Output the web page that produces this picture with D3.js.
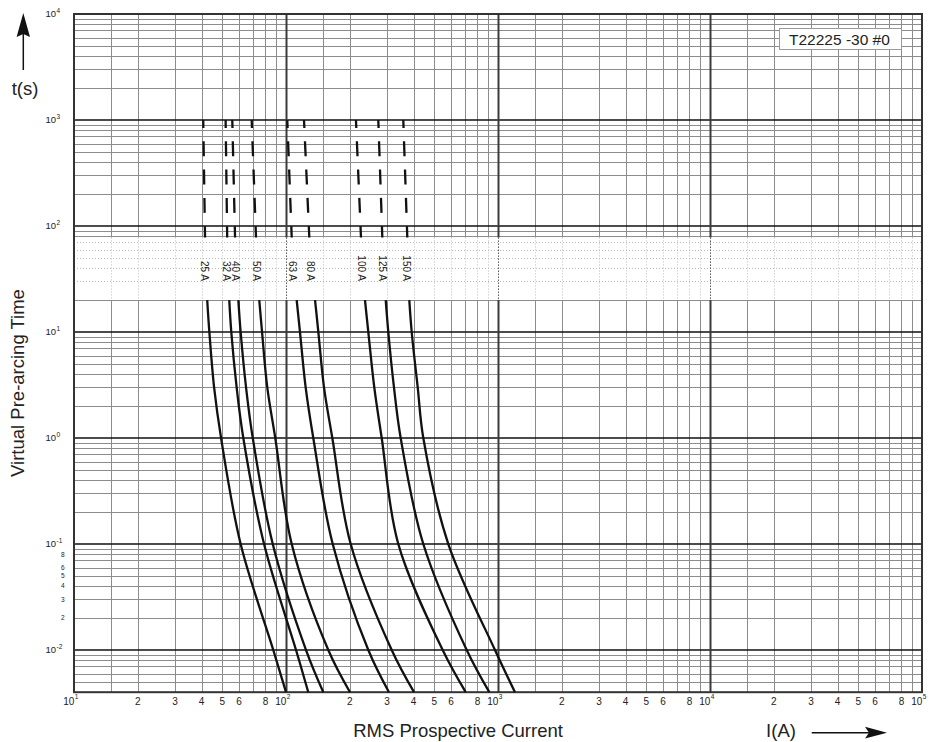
<!DOCTYPE html>
<html>
<head>
<meta charset="utf-8">
<script src="https://cdn.jsdelivr.net/npm/d3@7"></script>
<style>
  html, body { margin: 0; padding: 0; background: #fff; }
  svg { display: block; font-family: "Liberation Sans", Arial, Helvetica, sans-serif; }
</style>
</head>
<body>
<svg id="chart" width="940" height="742"></svg>
<script>
// ---------- DATA ----------
const ratings = [25, 32, 40, 50, 63, 80, 100, 125, 150];
const times   = [1000, 78, 20, 10, 3, 1, 0.1, 0.01, 0.004];   // seconds
const i25  = [40.7, 41.5, 42.5, 43.5, 45.8, 49.4, 61.1, 87.1, 100];
const i32  = [51.9, 52.8, 54.0, 55.2, 58.5, 62.9, 78.8, 111.5, 127.4];
const i40  = [55.8, 57.5, 59.6, 61.1, 64.8, 69.7, 86.6, 124.3, 150];
const i50  = [68.9, 72.2, 74.8, 77.1, 81.6, 89.0, 106.4, 158.3, 200.4];
const i63  = [101.4, 106.4, 112.3, 116.4, 123.8, 134.5, 166.1, 244.5, 306];
const i80  = [121.6, 128.8, 137.1, 142.1, 151.1, 165.4, 201.9, 315.2, 401.7];
const i100 = [213.8, 225.8, 235.8, 244.5, 260.9, 282.8, 338.6, 548.4, 704.1];
const i125 = [272.5, 284.7, 295.4, 303.8, 323.1, 347.5, 444.3, 711.9, 910.0];
const i150 = [357.5, 373.4, 381.6, 391.7, 418.1, 444.3, 583.1, 967.8, 1202.7];
const currents = [i25, i32, i40, i50, i63, i80, i100, i125, i150];

const xDecadeExps = [1, 2, 3, 4, 5];
const yDecadeExps = [-2, -1, 0, 1, 2, 3, 4];
const tickMultipliers = [2, 3, 4, 5, 6, 8];
const xMinorMultipliers = [1.5, 2, 3, 4, 5, 6, 7, 8, 9];
const yMinorMultipliers = [2, 3, 4, 5, 6, 7, 8, 9];
const yMinorLabelVals = [0.02, 0.03, 0.04, 0.05, 0.06, 0.08];
const bandTop = 78, bandBottom = 20;           // label band (s)
const labelTime = 30;                           // label anchor time
const annotation = "T22225 -30 #0";
const xTitle = "RMS Prospective Current";
const yTitle = "Virtual Pre-arcing Time";
const xUnit = "I(A)";
const yUnit = "t(s)";

// ---------- SCALES ----------
const svg = d3.select("#chart");
const x = d3.scaleLog().domain([10, 1e5]).range([74, 922]);
const y = d3.scaleLog().domain([0.004, 1e4]).range([692.2, 14]);
const [x0, x1] = x.range();
const [yb, yt] = y.range();

const g = svg.append("g");

// ---------- GRID ----------
const xMinor = [];
xDecadeExps.slice(0, -1).forEach(e => xMinorMultipliers.forEach(m => xMinor.push(m * Math.pow(10, e))));
const yMinor = [];
[-3, -2, -1, 0, 1, 2, 3].forEach(e => yMinorMultipliers.forEach(m => {
  const v = m * Math.pow(10, e);
  if (v > 0.004 && v < 1e4) yMinor.push(v);
}));
const xMajor = xDecadeExps.map(e => Math.pow(10, e)).filter(v => v > 10 && v < 1e5);
const yMajor = yDecadeExps.map(e => Math.pow(10, e)).filter(v => v < 1e4);

const inBand = v => v < bandTop && v > bandBottom;

// horizontal minor
g.selectAll(".hmin").data(yMinor).join("line")
  .attr("x1", x0).attr("x2", x1)
  .attr("y1", d => Math.round(y(d)) + 0.5).attr("y2", d => Math.round(y(d)) + 0.5)
  .attr("stroke", d => inBand(d) ? "#b8b8b8" : "#8c8c8c")
  .attr("stroke-width", 1)
  .attr("stroke-dasharray", d => inBand(d) ? "1,2" : null);

// vertical lines split around the label band
function vsegs(vals, cls, solidColor, dotColor, w, dash) {
  g.selectAll("." + cls + "a").data(vals).join("line")
    .attr("x1", d => Math.round(x(d)) + 0.5).attr("x2", d => Math.round(x(d)) + 0.5)
    .attr("y1", yt).attr("y2", y(bandTop))
    .attr("stroke", solidColor).attr("stroke-width", w);
  g.selectAll("." + cls + "b").data(vals).join("line")
    .attr("x1", d => Math.round(x(d)) + 0.5).attr("x2", d => Math.round(x(d)) + 0.5)
    .attr("y1", y(bandBottom)).attr("y2", yb)
    .attr("stroke", solidColor).attr("stroke-width", w);
  g.selectAll("." + cls + "c").data(vals).join("line")
    .attr("x1", d => Math.round(x(d)) + 0.5).attr("x2", d => Math.round(x(d)) + 0.5)
    .attr("y1", y(bandTop)).attr("y2", y(bandBottom))
    .attr("stroke", dotColor).attr("stroke-width", 1).attr("stroke-dasharray", dash);
}
vsegs(xMinor, "vmin", "#8c8c8c", "#bdbdbd", 1, "1,2");

// horizontal major
g.selectAll(".hmaj").data(yMajor).join("line")
  .attr("x1", x0).attr("x2", x1)
  .attr("y1", d => y(d)).attr("y2", d => y(d))
  .attr("stroke", "#111").attr("stroke-width", 1.7);

// vertical major
vsegs(xMajor, "vmaj", "#3a3a3a", "#555", 2, "1.5,1.5");

// border
g.append("rect").attr("x", x0).attr("y", yt).attr("width", x1 - x0).attr("height", yb - yt)
  .attr("fill", "none").attr("stroke", "#333").attr("stroke-width", 2);

// ---------- CURVES ----------
const line = d3.line().x(d => x(d.i)).y(d => y(d.t)).curve(d3.curveCatmullRom.alpha(0.5));
const fuses = ratings.map((r, k) => ({
  rating: r,
  pts: times.map((t, j) => ({ t: t, i: currents[k][j] }))
}));

g.selectAll(".dash").data(fuses).join("path")
  .attr("d", f => line(f.pts.filter(p => p.t >= bandTop)))
  .attr("fill", "none").attr("stroke", "#111").attr("stroke-width", 2.3)
  .attr("stroke-dasharray", "15,13.3").attr("stroke-dashoffset", 7);

g.selectAll(".solid").data(fuses).join("path")
  .attr("d", f => line(f.pts.filter(p => p.t <= bandBottom)))
  .attr("fill", "none").attr("stroke", "#111").attr("stroke-width", 2.3);

// labels in the band
function curveI(f) {
  const a = f.pts.find(p => p.t === bandTop), b = f.pts.find(p => p.t === bandBottom);
  return Math.sqrt(a.i * b.i);
}
g.selectAll(".flabel").data(fuses).join("text")
  .attr("transform", f => `translate(${x(curveI(f)) - 5},${y(labelTime) - 0.5}) rotate(90)`)
  .attr("text-anchor", "end")
  .attr("font-size", 10).attr("fill", "#222")
  .text(f => f.rating + " A");

// ---------- TICK LABELS ----------
const xl = svg.append("g").attr("fill", "#222");
xDecadeExps.forEach(e => {
  const v = Math.pow(10, e);
  xl.append("text").attr("x", x(v) + 0.3).attr("y", 705).attr("text-anchor", "end")
    .attr("font-size", 10).text("10");
  xl.append("text").attr("x", x(v) + 0.8).attr("y", 699).attr("font-size", 6.5).text(e);
});
xDecadeExps.slice(0, -1).forEach(e => tickMultipliers.forEach(m => {
  xl.append("text").attr("x", x(m * Math.pow(10, e))).attr("y", 705).attr("text-anchor", "middle")
    .attr("font-size", 10).text(m);
}));
yDecadeExps.forEach(e => {
  const v = Math.pow(10, e);
  xl.append("text").attr("x", 56).attr("y", y(v) + 3.4).attr("text-anchor", "end")
    .attr("font-size", 9.5).text("10");
  xl.append("text").attr("x", 56.6).attr("y", y(v) - 1.2).attr("font-size", 6.5).text(e);
});
yMinorLabelVals.forEach(v => {
  xl.append("text").attr("x", 62.7).attr("y", y(v) + 2.3).attr("text-anchor", "middle")
    .attr("font-size", 6.5).text(Math.round(v * 100));
});

// ---------- TITLES ----------
svg.append("text").attr("x", 458).attr("y", 736.5).attr("text-anchor", "middle")
  .attr("font-size", 18.5).attr("fill", "#222").text(xTitle);
svg.append("text").attr("transform", "translate(24,383) rotate(-90)").attr("text-anchor", "middle")
  .attr("font-size", 18.5).attr("fill", "#222").text(yTitle);
svg.append("text").attr("x", 25).attr("y", 94.5).attr("text-anchor", "middle")
  .attr("font-size", 18.5).attr("fill", "#222").text(yUnit);
svg.append("text").attr("x", 781).attr("y", 737).attr("text-anchor", "middle")
  .attr("font-size", 18.5).attr("fill", "#222").text(xUnit);

// arrows
svg.append("line").attr("x1", 23.3).attr("x2", 23.3).attr("y1", 70).attr("y2", 30)
  .attr("stroke", "#111").attr("stroke-width", 1.5);
svg.append("path").attr("d", "M23.3,13 L30,37 L23.3,34 L16.6,37 Z").attr("fill", "#111");
svg.append("line").attr("x1", 811.7).attr("x2", 872).attr("y1", 732.7).attr("y2", 732.7)
  .attr("stroke", "#111").attr("stroke-width", 1.5);
svg.append("path").attr("d", "M887,732.7 L865,726.8 L869,732.7 L865,738.6 Z").attr("fill", "#111");

// annotation box
svg.append("rect").attr("x", 779.5).attr("y", 28.5).attr("width", 122).attr("height", 21)
  .attr("fill", "#fff").attr("stroke", "#9a9a9a").attr("stroke-width", 1);
svg.append("text").attr("x", 789).attr("y", 44.5).attr("font-size", 15.5).attr("fill", "#222")
  .text(annotation);
</script>
</body>
</html>
